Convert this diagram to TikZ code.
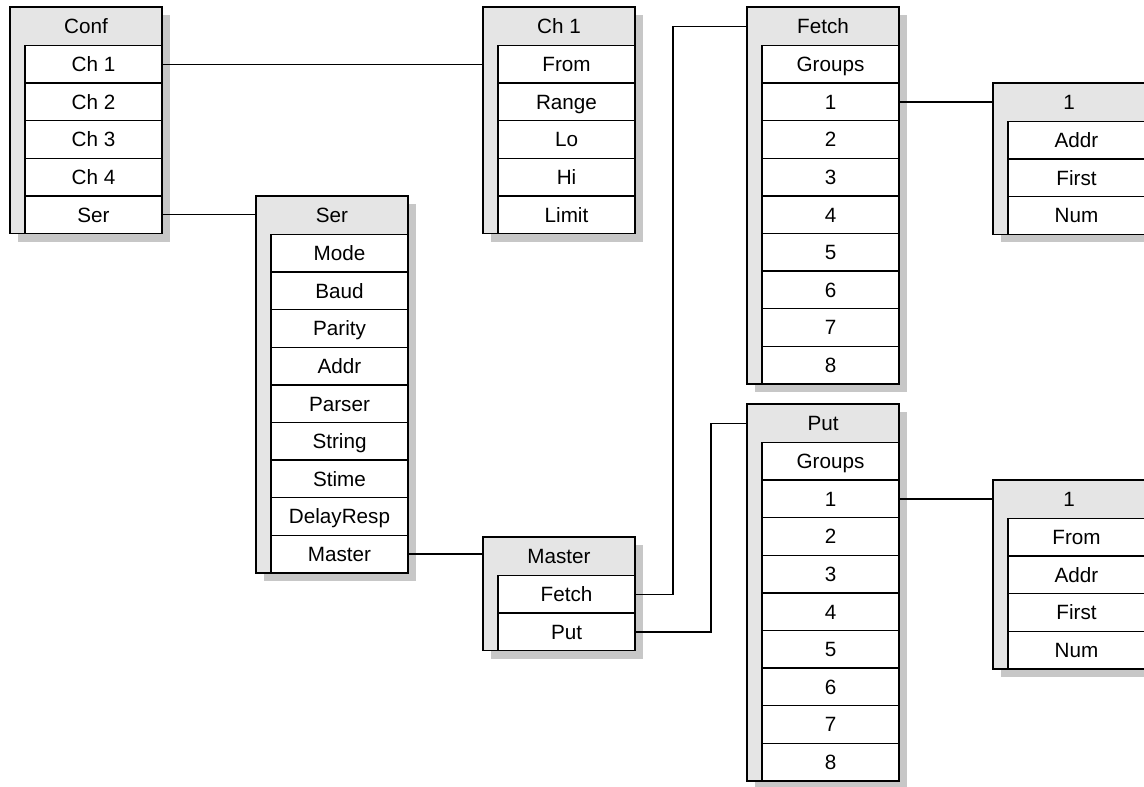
\documentclass[tikz,border=0pt]{standalone}
\usepackage{fontspec}
\setmainfont{Liberation Sans}
\usetikzlibrary{calc}

% one record box: name, left, top, number of rows, title, rows
\newcommand{\recbox}[6]{%
  \pgfmathsetmacro{\rbot}{#3+38.5+#4*37.6}
  \fill[boxshade] (#2+8,#3+8) rectangle (#2+160,\rbot+8);
  \draw[boxframe] (#2,#3) rectangle (#2+152,\rbot);
  \node[boxtitle] (#1) at (#2+76,#3+19.25) {#5};
  \foreach \txt [count=\i] in {#6}
    \node[boxrow] (#1-\i) at (#2+83.5,#3+38.5+\i*37.6-18.8) {\txt};
}

\begin{document}
\begin{tikzpicture}[x=0.75pt, y=-0.75pt, line width=1.1pt,
  every node/.style={font=\fontsize{15.5}{18}\selectfont, text height=11.1pt, text depth=0pt},
  boxshade/.style={fill=black!22},
  boxframe/.style={draw, fill=black!10},
  boxtitle/.style={minimum width=114pt, minimum height=28.9pt, inner sep=0pt, outer sep=0pt},
  boxrow/.style={draw, fill=white, minimum width=102.75pt, minimum height=28.2pt, inner sep=0pt, outer sep=0pt},
  link/.style={draw}]
  \useasboundingbox (0,0) rectangle (1144,786);
  \clip (0,0) rectangle (1144,786);

  \recbox{conf}{10}{7}{5}{Conf}{Ch 1,Ch 2,Ch 3,Ch 4,Ser}
  \recbox{chan}{483}{7}{5}{Ch 1}{From,Range,Lo,Hi,Limit}
  \recbox{ser}{256}{196}{9}{Ser}{Mode,Baud,Parity,Addr,Parser,String,Stime,DelayResp,Master}
  \recbox{master}{483}{537}{2}{Master}{Fetch,Put}
  \recbox{fetch}{747}{7}{9}{Fetch}{Groups,1,2,3,4,5,6,7,8}
  \recbox{put}{747}{404}{9}{Put}{Groups,1,2,3,4,5,6,7,8}
  \recbox{grpf}{993}{83}{3}{1}{Addr,First,Num}
  \recbox{grpp}{993}{480}{4}{1}{From,Addr,First,Num}

  % links
  \draw[link] (conf-1.east) -- (conf-1.east -| chan.west);
  \draw[link] (conf-5.east) -- (conf-5.east -| ser.west);
  \draw[link] (ser-9.east) -- (ser-9.east -| master.west);
  \draw[link] (master-1.east) -- ++(38,0) |- (fetch.west);
  \draw[link] (master-2.east) -- ++(76,0) |- (put.west);
  \draw[link] (fetch-2.east) -- (fetch-2.east -| grpf.west);
  \draw[link] (put-2.east) -- (put-2.east -| grpp.west);
\end{tikzpicture}
\end{document}
